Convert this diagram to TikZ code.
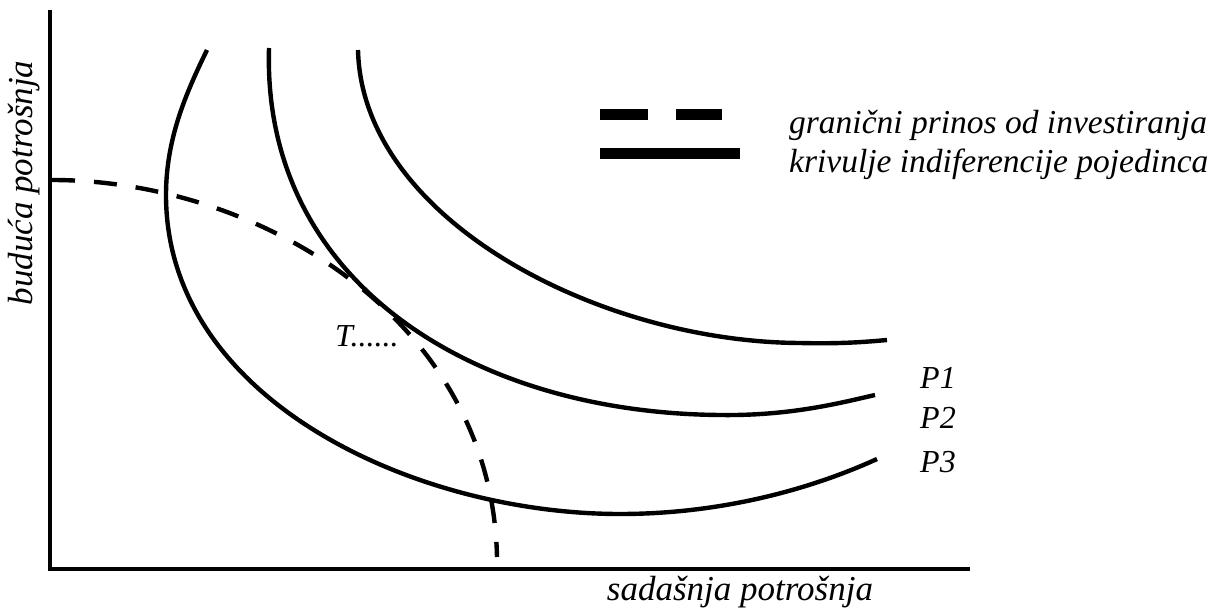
\documentclass[tikz,border=0pt]{standalone}
\usepackage{fontspec}
\setmainfont{Liberation Serif}
\begin{document}
\begin{tikzpicture}[x=1pt,y=-1pt,
  lbl/.style={font=\fontsize{32}{38}\selectfont\itshape, inner sep=0pt},
  leg/.style={font=\fontsize{33.5}{40}\selectfont\itshape, inner sep=0pt},
  axlbl/.style={font=\fontsize{35}{42}\selectfont\itshape, inner sep=0pt},
  curve/.style={line width=4.4pt},
  axis/.style={line width=3.8pt},
  frontier/.style={line width=4.4pt, dash pattern=on 23pt off 19pt}]
\useasboundingbox (0,0) rectangle (1217,609);
% axes
\coordinate (O) at (50,569);
\coordinate (ytop) at (50,10);
\coordinate (xend) at (970,569);
\draw[axis] (ytop) -- (O) -- (xend);
% indifference curves
\coordinate (p3s) at (207,50);
\coordinate (p3l) at (166,195);
\coordinate (p3b) at (620,514);
\coordinate (p3e) at (877,459);
\draw[curve] (p3s) .. controls (185,95) and (166,140) .. (p3l)
  .. controls (166,400) and (415,514) .. (p3b)
  .. controls (730,514) and (820,485) .. (p3e);
\coordinate (p2s) at (269,48);
\coordinate (p2b) at (720,415);
\coordinate (p2e) at (875,395);
\draw[curve] (p2s) .. controls (262,280) and (470,413) .. (p2b)
  .. controls (790,416) and (840,403) .. (p2e);
\coordinate (p1s) at (358,50);
\coordinate (p1b) at (800,343);
\coordinate (p1e) at (887,340);
\draw[curve] (p1s) .. controls (362,220) and (600,342) .. (p1b)
  .. controls (840,344) and (865,342) .. (p1e);
% marginal return frontier
\coordinate (fs) at (52,180);
\coordinate (fe) at (497,557);
\draw[frontier] (fs) .. controls (260,180) and (492,320) .. (fe);
% legend
\draw[line width=11pt] (600,115) -- (648,115);
\draw[line width=11pt] (676,115) -- (722,115);
\draw[line width=11pt] (600,154) -- (740,154);
\node[leg, anchor=west] (l1) at (789,125) {granični prinos od investiranja};
\node[leg, anchor=west] (l2) at (789,164) {krivulje indiferencije pojedinca};
% labels
\node[lbl, anchor=west] (p1) at (920,378) {P1};
\node[lbl, anchor=west] (p2) at (920,418) {P2};
\node[lbl, anchor=west] (p3) at (920,462) {P3};
\node[lbl, anchor=west] (t) at (335,336) {T......};
\node[axlbl, rotate=90] (ylab) at (24,183) {buduća potrošnja};
\node[axlbl] (xlab) at (740,592) {sadašnja potrošnja};
\end{tikzpicture}
\end{document}
